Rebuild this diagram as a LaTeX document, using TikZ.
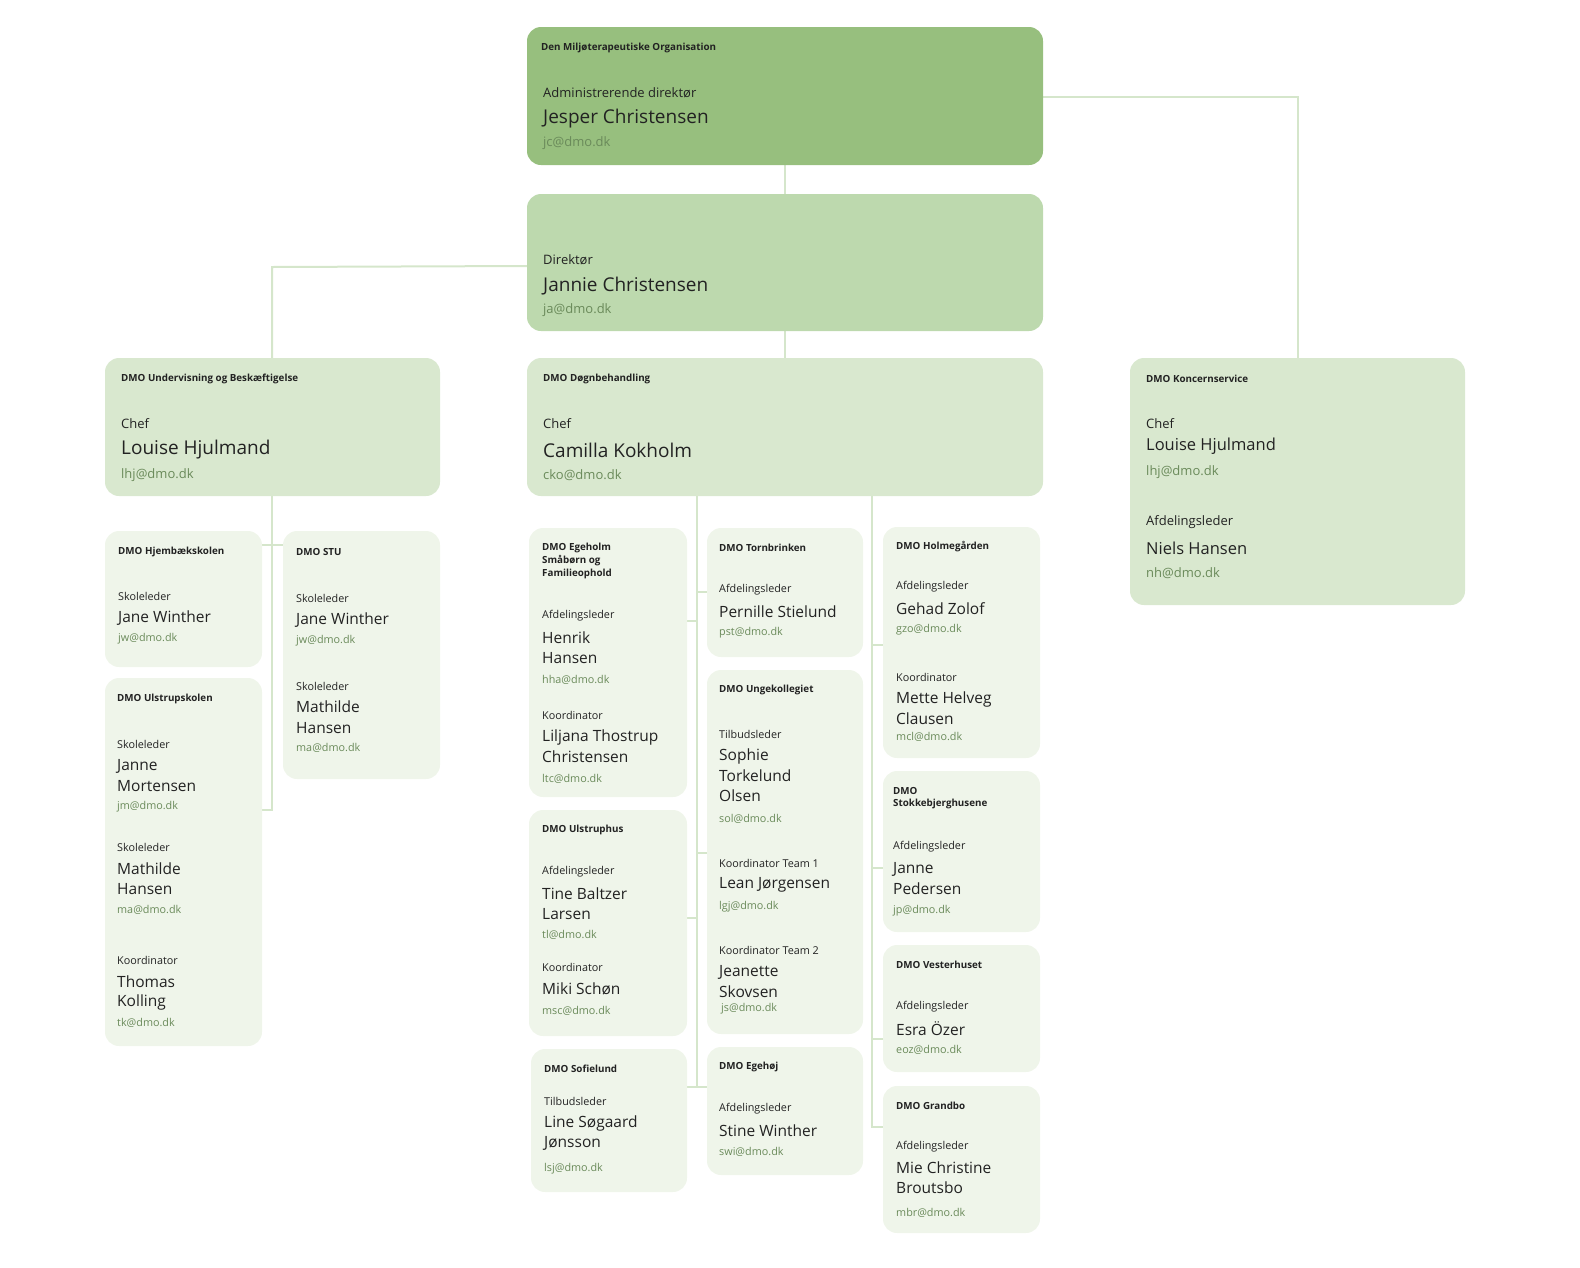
\documentclass[tikz,border=0pt]{standalone}
\usepackage{fontspec}
\setmainfont{Open Sans}
\definecolor{cA}{HTML}{97BF7E}
\definecolor{cB}{HTML}{BDD9AE}
\definecolor{cC}{HTML}{D9E8CF}
\definecolor{cD}{HTML}{EFF5EA}
\definecolor{ln}{HTML}{D5E6CB}
\definecolor{em}{HTML}{6A8A5A}
\definecolor{tx}{HTML}{222222}
\newcommand{\bx}[6]{\path[fill=#6,rounded corners=14pt] (#2,#3) rectangle (#4,#5); \coordinate (#1) at (#2,#3);}
\newcommand{\hd}[3]{\node[hd] at (#1,#2) {#3};}
\newcommand{\rl}[3]{\node[rl] at (#1,#2) {#3};}
\newcommand{\nm}[3]{\node[nm] at (#1,#2) {#3};}
\newcommand{\ml}[3]{\node[ml] at (#1,#2) {#3};}
\newcommand{\Rl}[3]{\node[Rl] at (#1,#2) {#3};}
\newcommand{\Nm}[3]{\node[Nm] at (#1,#2) {#3};}
\newcommand{\Ml}[3]{\node[Ml] at (#1,#2) {#3};}
\begin{document}
\begin{tikzpicture}[x=1pt,y=-1pt,
 t/.style={anchor=west,inner sep=0pt,text=tx},
 hd/.style={t,font=\bfseries\fontsize{9.8}{10}\selectfont},
 rl/.style={t,font=\fontsize{10.8}{12}\selectfont},
 nm/.style={t,font=\fontsize{15.5}{17}\selectfont},
 ml/.style={t,text=em,font=\fontsize{10.8}{12}\selectfont},
 Rl/.style={t,font=\fontsize{13}{14}\selectfont},
 Nm/.style={t,font=\fontsize{19}{20}\selectfont},
 Ml/.style={t,text=em,font=\fontsize{13}{14}\selectfont},
 con/.style={draw=ln,line width=2pt}]
\useasboundingbox (0,0) rectangle (1580,1267);
% connectors
\draw[con] (785,165) -- (785,194);
\draw[con] (1043,97) -- (1298,97) -- (1298,358);
\draw[con] (527,266) -- (272,267) -- (272,358);
\draw[con] (785,331) -- (785,358);
\draw[con] (272,496) -- (272,810) -- (262,810);
\draw[con] (262,545) -- (283,545);
\draw[con] (697,496) -- (697,1087);
\draw[con] (687,1087) -- (707,1087);
\draw[con] (697,592) -- (707,592);
\draw[con] (697,621) -- (687,621);
\draw[con] (697,853) -- (707,853);
\draw[con] (697,918) -- (687,918);
\draw[con] (872,496) -- (872,1127) -- (883,1127);
\draw[con] (872,645) -- (883,645);
\draw[con] (872,868) -- (883,868);
\draw[con] (872,1039) -- (883,1039);
% main boxes
\bx{top}{527}{27}{1043}{165}{cA}
\hd{541}{48}{Den Miljøterapeutiske Organisation}
\Rl{543}{93}{Administrerende direktør}
\Nm{543}{119}{Jesper Christensen}
\Ml{543}{143}{jc@dmo.dk}
\bx{dir}{527}{194}{1043}{331}{cB}
\Rl{543}{260}{Direktør}
\Nm{543}{286}{Jannie Christensen}
\Ml{543}{310}{ja@dmo.dk}
\bx{und}{105}{358}{440}{496}{cC}
\hd{121}{379}{DMO Undervisning og Beskæftigelse}
\Rl{121}{424}{Chef}
\Nm{121}{450}{Louise Hjulmand}
\Ml{121}{475}{lhj@dmo.dk}
\bx{dogn}{527}{358}{1043}{496}{cC}
\hd{543}{379}{DMO Døgnbehandling}
\Rl{543}{424}{Chef}
\Nm{543}{450}{Camilla Kokholm}
\Ml{543}{475}{cko@dmo.dk}
\bx{kon}{1130}{358}{1465}{605}{cC}
\hd{1146}{379}{DMO Koncernservice}
\Rl{1146}{424}{Chef}
\node[t,font=\fontsize{16.5}{18}\selectfont] at (1146,446) {Louise Hjulmand};
\Ml{1146}{472}{lhj@dmo.dk}
\Rl{1146}{522}{Afdelingsleder}
\node[t,font=\fontsize{16.5}{18}\selectfont] at (1146,548) {Niels Hansen};
\Ml{1146}{573}{nh@dmo.dk}
% left leaves
\bx{hjem}{105}{531}{262}{667}{cD}
\hd{118}{552}{DMO Hjembækskolen}
\rl{118}{596}{Skoleleder}\nm{118}{618}{Jane Winther}\ml{118}{639}{jw@dmo.dk}
\bx{stu}{283}{531}{440}{779}{cD}
\hd{296}{552}{DMO STU}
\rl{296}{598}{Skoleleder}\nm{296}{620}{Jane Winther}\ml{296}{641}{jw@dmo.dk}
\rl{296}{686}{Skoleleder}\nm{296}{707}{Mathilde}\nm{296}{728}{Hansen}\ml{296}{748}{ma@dmo.dk}
\bx{ulsk}{105}{678}{262}{1046}{cD}
\hd{117}{699}{DMO Ulstrupskolen}
\rl{117}{744}{Skoleleder}\nm{117}{766}{Janne}\nm{117}{786}{Mortensen}\ml{117}{807}{jm@dmo.dk}
\rl{117}{847}{Skoleleder}\nm{117}{869}{Mathilde}\nm{117}{889}{Hansen}\ml{117}{910}{ma@dmo.dk}
\rl{117}{960}{Koordinator}\nm{117}{982}{Thomas}\nm{117}{1002}{Kolling}\ml{117}{1023}{tk@dmo.dk}
% middle col 1
\bx{egeh}{529}{528}{687}{797}{cD}
\hd{542}{548}{DMO Egeholm}\hd{542}{561}{Småbørn og}\hd{542}{574}{Familieophold}
\rl{542}{616}{Afdelingsleder}\nm{542}{638}{Henrik}\nm{542}{658}{Hansen}\ml{542}{680}{hha@dmo.dk}
\rl{542}{715}{Koordinator}\nm{542}{737}{Liljana Thostrup}\nm{542}{757}{Christensen}\ml{542}{779}{ltc@dmo.dk}
\bx{ulph}{529}{810}{687}{1036}{cD}
\hd{542}{830}{DMO Ulstruphus}
\rl{542}{872}{Afdelingsleder}\nm{542}{894}{Tine Baltzer}\nm{542}{914}{Larsen}\ml{542}{935}{tl@dmo.dk}
\rl{542}{967}{Koordinator}\nm{542}{989}{Miki Schøn}\ml{542}{1011}{msc@dmo.dk}
\bx{sofi}{531}{1049}{687}{1192}{cD}
\hd{544}{1069}{DMO Sofielund}
\rl{544}{1101}{Tilbudsleder}\nm{544}{1123}{Line Søgaard}\nm{544}{1143}{Jønsson}\ml{544}{1169}{lsj@dmo.dk}
% middle col 2
\bx{torn}{707}{528}{863}{657}{cD}
\hd{719}{548}{DMO Tornbrinken}
\rl{719}{590}{Afdelingsleder}\nm{719}{612}{Pernille Stielund}\ml{719}{633}{pst@dmo.dk}
\bx{unge}{707}{670}{863}{1034}{cD}
\hd{719}{690}{DMO Ungekollegiet}
\rl{719}{734}{Tilbudsleder}\nm{719}{756}{Sophie}\nm{719}{776}{Torkelund}\nm{719}{796}{Olsen}\ml{719}{819}{sol@dmo.dk}
\rl{719}{863}{Koordinator Team 1}\nm{719}{885}{Lean Jørgensen}\ml{719}{907}{lgj@dmo.dk}
\rl{719}{950}{Koordinator Team 2}\nm{719}{972}{Jeanette}\nm{719}{992}{Skovsen}\ml{721}{1009}{js@dmo.dk}
\bx{egehoj}{707}{1047}{863}{1175}{cD}
\hd{719}{1067}{DMO Egehøj}
\rl{719}{1109}{Afdelingsleder}\nm{719}{1131}{Stine Winther}\ml{719}{1152}{swi@dmo.dk}
% col 3
\bx{holm}{883}{527}{1040}{758}{cD}
\hd{896}{547}{DMO Holmegården}
\rl{896}{587}{Afdelingsleder}\nm{896}{609}{Gehad Zolof}\ml{896}{630}{gzo@dmo.dk}
\rl{896}{677}{Koordinator}\nm{896}{699}{Mette Helveg}\nm{896}{719}{Clausen}\ml{896}{737}{mcl@dmo.dk}
\bx{stok}{883}{771}{1040}{932}{cD}
\hd{893}{791}{DMO}\hd{893}{804}{Stokkebjerghusene}
\rl{893}{847}{Afdelingsleder}\nm{893}{869}{Janne}\nm{893}{889}{Pedersen}\ml{893}{911}{jp@dmo.dk}
\bx{vest}{883}{945}{1040}{1072}{cD}
\hd{896}{965}{DMO Vesterhuset}
\rl{896}{1007}{Afdelingsleder}\nm{896}{1029}{Esra Özer}\ml{896}{1050}{eoz@dmo.dk}
\bx{gran}{883}{1086}{1040}{1233}{cD}
\hd{896}{1106}{DMO Grandbo}
\rl{896}{1147}{Afdelingsleder}\nm{896}{1168}{Mie Christine}\nm{896}{1188}{Broutsbo}\ml{896}{1213}{mbr@dmo.dk}
\end{tikzpicture}
\end{document}
